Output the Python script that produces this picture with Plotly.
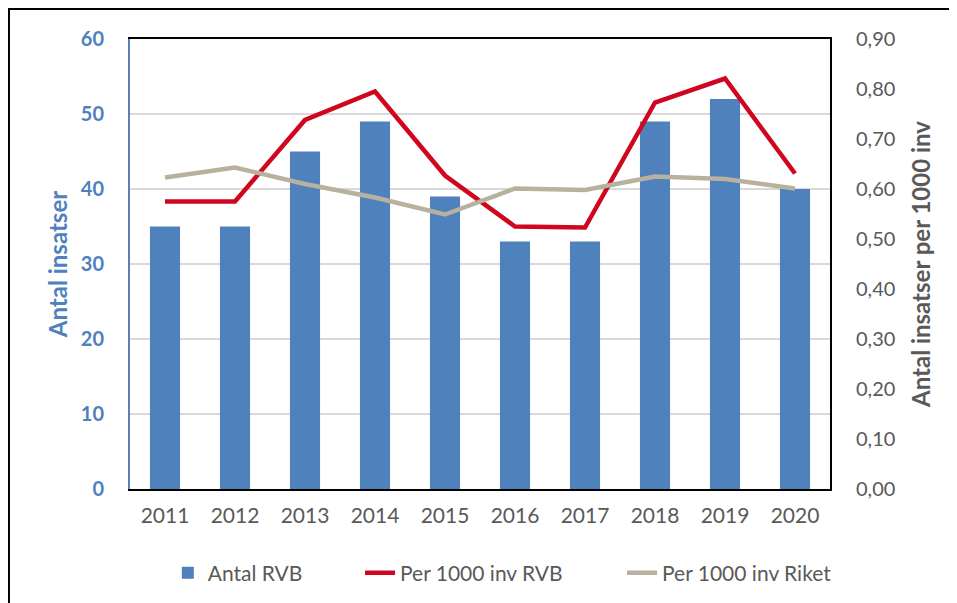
import plotly.graph_objects as go

years = ["2011", "2012", "2013", "2014", "2015", "2016", "2017", "2018", "2019", "2020"]
antal_rvb = [35, 35, 45, 49, 39, 33, 33, 49, 52, 40]
per1000_rvb = [0.575, 0.575, 0.738, 0.795, 0.627, 0.525, 0.523, 0.773, 0.821, 0.631]
per1000_riket = [0.623, 0.643, 0.610, 0.583, 0.549, 0.601, 0.598, 0.625, 0.620, 0.601]

left_ticks = [0, 10, 20, 30, 40, 50, 60]
right_ticks = [0.0, 0.1, 0.2, 0.3, 0.4, 0.5, 0.6, 0.7, 0.8, 0.9]

BLUE = "#4F81BD"
RED = "#D0061F"
TAN = "#B8B19D"
GRAY = "#595959"
FONT = "Lato"

fig = go.Figure()
fig.add_trace(go.Bar(x=years, y=antal_rvb, name="Antal RVB", marker=dict(color=BLUE, line=dict(width=0)),
                     legend="legend"))
fig.add_trace(go.Scatter(x=years, y=per1000_rvb, name="Per 1000 inv RVB", mode="lines",
                         line=dict(color=RED, width=4.5), yaxis="y2", legend="legend2"))
fig.add_trace(go.Scatter(x=years, y=per1000_riket, name="Per 1000 inv Riket", mode="lines",
                         line=dict(color=TAN, width=4.5), yaxis="y2", legend="legend3"))

leg_common = dict(orientation="h", yanchor="middle", y=-0.187, xanchor="left",
                  font=dict(family=FONT, size=21, color=GRAY), bgcolor="rgba(0,0,0,0)",
                  borderwidth=0)

# outer frame: only left and top edges are visible in the reference
frame_path = "M -0.1729,-0.40 L -0.1729,1.0667 L 1.35,1.0667"

fig.update_layout(
    width=957, height=603,
    margin=dict(l=122, r=135, t=31, b=122, autoexpand=False),
    paper_bgcolor="white", plot_bgcolor="white",
    separators=",.",
    bargap=0.57,
    showlegend=True,
    legend=dict(x=0.054, **leg_common),
    legend2=dict(x=0.3286, **leg_common),
    legend3=dict(x=0.7029, **leg_common),
    xaxis=dict(type="category", showline=True, linecolor="black", linewidth=2, mirror=True,
               ticks="", showgrid=False, tickfont=dict(family=FONT, size=21, color=GRAY),
               ticklabelstandoff=7),
    yaxis=dict(range=[0, 60], tickvals=left_ticks, showline=True, linecolor="#5A7FB0", linewidth=2,
               showgrid=True, gridcolor="#D9D9D9", gridwidth=1.6, zeroline=False, ticks="",
               tickfont=dict(family=FONT, size=20, color=BLUE, weight="bold"),
               ticklabelstandoff=20,
               title=dict(text="Antal insatser", font=dict(family=FONT, size=24, color=BLUE, weight="bold"),
                          standoff=6)),
    yaxis2=dict(range=[0, 0.9], tickvals=right_ticks, tickformat=".2f", overlaying="y", side="right",
                showline=True, linecolor="black", linewidth=2, showgrid=False, zeroline=False, ticks="",
                tickfont=dict(family=FONT, size=20, color=GRAY),
                ticklabelstandoff=20,
                title=dict(text="Antal insatser per 1000 inv",
                           font=dict(family=FONT, size=24, color=GRAY, weight="bold"), standoff=19)),
    shapes=[dict(type="path", xref="paper", yref="paper", path=frame_path,
                 line=dict(color="black", width=2), layer="above")],
)

fig.write_html("out.html")
